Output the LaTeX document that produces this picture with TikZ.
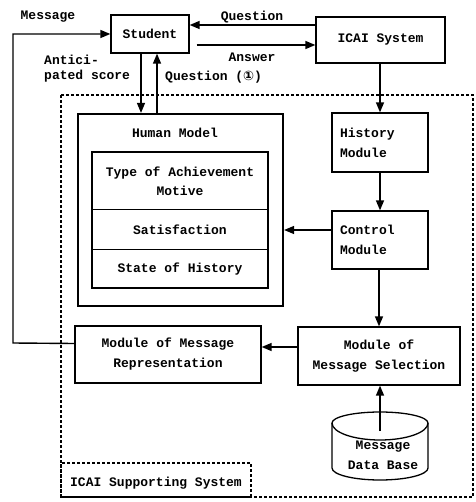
\documentclass[tikz,border=0pt]{standalone}
\usepackage{fontspec}
\setmainfont{Liberation Mono}
\newfontfamily\symf{DejaVu Sans}
\usetikzlibrary{arrows.meta,calc}
\tikzset{
  box/.style={draw, line width=1.3pt, inner sep=0pt, font=\fontsize{13}{20}\selectfont\bfseries, align=center},
  lbl/.style={inner sep=0pt, font=\fontsize{13}{15}\selectfont\bfseries},
  arr/.style={line width=1.4pt, -{Triangle[length=10pt,width=8pt]}},
  ln/.style={line width=1.4pt},
  dsh/.style={line width=1.2pt, dash pattern=on 3pt off 2pt},
  frame/.style={draw, line width=2.2pt, inner sep=0pt},
}
\begin{document}
\begin{tikzpicture}[x=1pt,y=-1pt]
\useasboundingbox (0,0) rectangle (475,502);
% outer dashed system box
\draw[dsh] (61,95) rectangle (473,497);
\node[draw, dsh, minimum width=190pt, minimum height=34pt, inner sep=0pt] (sup) at (156,480) {};
\node[lbl] (suptxt) at (156,483) {ICAI Supporting System};

% top nodes
\node[box, minimum width=78pt, minimum height=38pt] (student) at (150,34) {Student};
\node[box, minimum width=129pt, minimum height=46pt] (icai) at (380.5,40) {ICAI System};

% human model
\node[frame, minimum width=205pt, minimum height=192pt] (human) at (180.5,210) {};
\node[lbl] (humantxt) at (175,133) {Human Model};
\node[draw, line width=1.2pt, minimum width=176pt, minimum height=136pt, inner sep=0pt] (inner) at (180,220) {};
\draw[line width=1pt] (inner.west |- 0,210) coordinate (d1l) -- (d1l -| inner.east);
\draw[line width=1pt] (inner.west |- 0,249) coordinate (d2l) -- (d2l -| inner.east);
\node[lbl, align=center, font=\fontsize{13}{19}\selectfont\bfseries] (tam) at (180,181) {Type of Achievement\\Motive};
\node[lbl] (sat) at (180,230) {Satisfaction};
\node[lbl] (soh) at (180,269) {State of History};

% right modules
\node[box, minimum width=96pt, minimum height=59pt, align=left, text width=80pt] (history) at (380,142.5) {History\\Module};
\node[box, minimum width=96pt, minimum height=58pt, align=left, text width=80pt] (control) at (380,240) {Control\\Module};
\node[box, minimum width=162pt, minimum height=58pt] (select) at (379,356) {Module of\\Message Selection};
\node[box, minimum width=186pt, minimum height=57pt] (repr) at (168,354.5) {Module of Message\\Representation};

% database cylinder
\draw[line width=1.3pt] (332,423) arc[start angle=180, end angle=0, x radius=48pt, y radius=11pt]
  -- (428,468) arc[start angle=0, end angle=-180, x radius=48pt, y radius=12pt] -- cycle;
\draw[line width=1.3pt] (332,423) arc[start angle=180, end angle=360, x radius=48pt, y radius=17pt];
\node[lbl, align=center, font=\fontsize{13}{20}\selectfont\bfseries] (db) at (383,455) {Message\\Data Base};
\coordinate (dbtop) at (380,431);

% labels
\node[lbl] (msg) at (48,17) {Message};
\node[lbl] (qtop) at (252,17) {Question};
\node[lbl] (ans) at (252,57) {Answer};
\node[lbl, align=left, anchor=west, font=\fontsize{13}{15}\selectfont\bfseries] (antic) at (44,69) {Antici-\\pated score};
\node[lbl, anchor=west] (q1) at (165,77) {Question ({\symf ①})};

% connectors
\coordinate (qa) at ([yshift=15pt]icai.west);
\draw[arr] (qa) -- (qa -| student.east);
\coordinate (aa) at ([xshift=7pt,yshift=-11pt]student.east);
\draw[arr] (aa) -- (aa -| icai.west);
\coordinate (sa) at ([xshift=-9pt]student.south);
\draw[arr] (sa) -- (sa |- human.north);
\coordinate (sq) at ([xshift=7pt]student.south);
\draw[arr] (sq |- human.north) -- (sq);
\draw[arr] (history.north |- icai.south) -- (history.north);
\draw[arr] (history.south) -- (control.north);
\coordinate (ch) at ([yshift=10pt]control.west);
\draw[arr] (ch) -- (ch -| human.east);
\draw[arr] (select.north |- control.south) -- (select.north);
\coordinate (sr) at ([yshift=9pt]select.west);
\draw[arr] (sr) -- (sr -| repr.east);
\draw[arr] (dbtop) -- (dbtop |- select.south);
\coordinate (rm) at ([yshift=11pt]repr.west);
\draw[arr] (rm) -- (13,343) |- (student.west);
\end{tikzpicture}
\end{document}
